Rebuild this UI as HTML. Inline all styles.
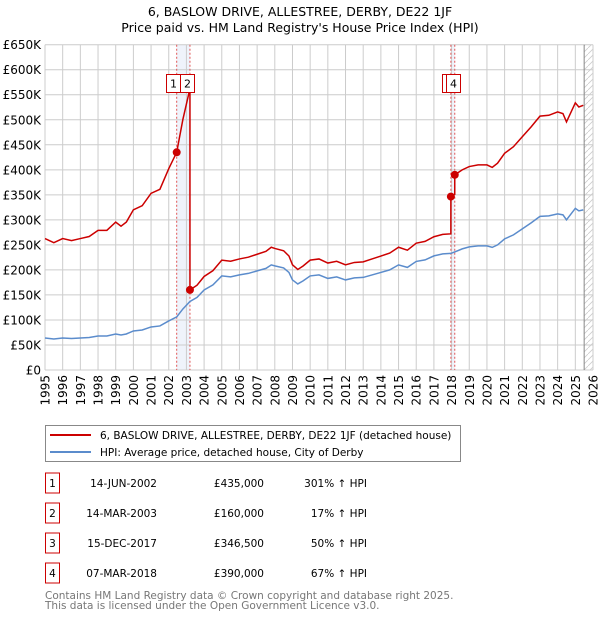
<!DOCTYPE html>
<html><head><meta charset="utf-8">
<style>
body{margin:0;background:#fff;font-family:"DejaVu Sans","Liberation Sans",sans-serif;}
svg text{font-family:"DejaVu Sans","Liberation Sans",sans-serif;}
</style></head>
<body>
<svg id="chart" width="600" height="620" xmlns="http://www.w3.org/2000/svg">
<text x="300" y="16" text-anchor="middle" font-size="12.5">6, BASLOW DRIVE, ALLESTREE, DERBY, DE22 1JF</text>
<text x="300" y="32" text-anchor="middle" font-size="12.5">Price paid vs. HM Land Registry's House Price Index (HPI)</text>
<g id="plot"></g>
<g>
<rect x="45.5" y="425.5" width="415" height="36" fill="#fff" stroke="#888"/>
<line x1="50" y1="435" x2="91" y2="435" stroke="#cc0000" stroke-width="2"/>
<text x="100" y="439" font-size="10.5">6, BASLOW DRIVE, ALLESTREE, DERBY, DE22 1JF (detached house)</text>
<line x1="50" y1="452" x2="91" y2="452" stroke="#5b8ccc" stroke-width="2"/>
<text x="100" y="456" font-size="10.5">HPI: Average price, detached house, City of Derby</text>
</g>
<g id="table"></g>
<text x="45" y="599" font-size="10.5" fill="#777">Contains HM Land Registry data © Crown copyright and database right 2025.</text>
<text x="45" y="609" font-size="10.5" fill="#777">This data is licensed under the Open Government Licence v3.0.</text>
</svg>
<script>
const hpiYears=[1995,1995.5,1996,1996.5,1997,1997.5,1998,1998.5,1999,1999.3,1999.6,2000,2000.5,2001,2001.5,2002,2002.45,2002.8,2003.2,2003.6,2004,2004.5,2005,2005.5,2006,2006.5,2007,2007.5,2007.8,2008,2008.5,2008.8,2009,2009.3,2009.6,2010,2010.5,2011,2011.5,2012,2012.5,2013,2013.5,2014,2014.5,2015,2015.5,2016,2016.5,2017,2017.5,2017.96,2018.18,2018.6,2019,2019.5,2020,2020.3,2020.6,2021,2021.5,2022,2022.5,2023,2023.5,2024,2024.3,2024.5,2025,2025.2,2025.45];
const hpiValues=[64,62,64,63,64,65,68,68,72,70,72,78,80,86,88,98,106,122,137,145,160,170,188,186,190,193,198,203,210,208,204,195,180,172,178,188,190,183,186,180,184,185,190,195,200,210,205,217,220,228,232,233,236,242,246,248,248,245,250,262,270,282,294,307,308,312,310,300,323,318,320];
const saleYears=[2002.45,2003.2,2017.96,2018.18];
const salePrices=[435,160,346.5,390];
const saleLabels=["1","2","3","4"];
const yTicks=[0,50,100,150,200,250,300,350,400,450,500,550,600,650];
const xTicks=[1995,1996,1997,1998,1999,2000,2001,2002,2003,2004,2005,2006,2007,2008,2009,2010,2011,2012,2013,2014,2015,2016,2017,2018,2019,2020,2021,2022,2023,2024,2025,2026];
const saleDates=["14-JUN-2002","14-MAR-2003","15-DEC-2017","07-MAR-2018"];
const salePriceText=["£435,000","£160,000","£346,500","£390,000"];
const salePct=["301% ↑ HPI","17% ↑ HPI","50% ↑ HPI","67% ↑ HPI"];

const NS="http://www.w3.org/2000/svg";
const X0=45,X1=593,Y0=370,Y1=44.7;
const xs=y=>X0+(y-1995)/(2026-1995)*(X1-X0);
const ys=v=>Y0-v/650*(Y0-Y1);
function mk(tag,attrs,parent){const e=document.createElementNS(NS,tag);for(const k in attrs)e.setAttribute(k,attrs[k]);parent.appendChild(e);return e;}
function hpiAt(t){for(let i=0;i<hpiYears.length-1;i++){if(t<=hpiYears[i+1]){const f=(t-hpiYears[i])/(hpiYears[i+1]-hpiYears[i]);return hpiValues[i]+f*(hpiValues[i+1]-hpiValues[i]);}}return hpiValues[hpiValues.length-1];}
const plot=document.getElementById('plot');

for(const [a,b] of [[0,1],[2,3]]){
 const r=mk('rect',{x:xs(saleYears[a]),y:Y1,width:xs(saleYears[b])-xs(saleYears[a]),height:Y0-Y1,fill:'#e8eef9',opacity:0.7},plot);
 
 
}
const defs=mk('defs',{},plot);
const pat=mk('pattern',{id:'hatch',width:6,height:6,patternUnits:'userSpaceOnUse'},defs);
mk('line',{x1:0,y1:6,x2:6,y2:0,stroke:'#ccc','stroke-width':0.8},pat);
const hx=xs(2025.5);
const hr=mk('rect',{x:hx,y:Y1,width:X1-hx,height:Y0-Y1,fill:'url(#hatch)'},plot);


for(const v of yTicks){
 const l=mk('line',{x1:X0,x2:X1,y1:ys(v),y2:ys(v),stroke:'#ccc','stroke-width':1},plot);
 
 
 const t=mk('text',{x:X0-4,y:ys(v)+4.5,'text-anchor':'end','font-size':12},plot);
 t.textContent=v===0?'£0':'£'+v+'K';
 
 
}
for(const y of xTicks){
 const l=mk('line',{x1:xs(y),x2:xs(y),y1:Y1,y2:Y0,stroke:'#ccc','stroke-width':1},plot);
 
 
 const t=mk('text',{x:0,y:0,'text-anchor':'end','font-size':12,transform:`translate(${xs(y)+4.5},${Y0+5}) rotate(-90)`},plot);
 t.textContent=y;
 
 
}
mk('line',{x1:hx,x2:hx,y1:Y1,y2:Y0,stroke:'#888','stroke-width':1},plot);
for(const s of saleYears){
 const l=mk('line',{x1:xs(s),x2:xs(s),y1:Y1,y2:Y0,stroke:'#e05555','stroke-width':1,'stroke-dasharray':'2,2'},plot);
 
 
}
const hp=mk('polyline',{points:hpiYears.map((y,i)=>xs(y)+','+ys(hpiValues[i])).join(' '),fill:'none',stroke:'#5b8ccc','stroke-width':1.5},plot);


let pts=[];
const ratios=saleYears.map((s,i)=>salePrices[i]/hpiAt(s));
const r0=ratios[0];
for(let i=0;i<hpiYears.length;i++){
 const t=hpiYears[i];
 let k=-1;for(let j=0;j<saleYears.length;j++)if(t>=saleYears[j]-1e-9)k=j;
 const r=k<0?r0:ratios[k];
 pts.push([t,hpiValues[i]*r]);
}
let full=pts.slice();
for(let j=1;j<saleYears.length;j++){
 full.push([saleYears[j]-0.0001,hpiAt(saleYears[j])*ratios[j-1]]);
}
full.sort((a,b)=>a[0]-b[0]);
const pl=mk('polyline',{points:full.map(p=>xs(p[0])+','+ys(p[1])).join(' '),fill:'none',stroke:'#cc0000','stroke-width':1.5},plot);


for(let i=0;i<saleYears.length;i++){
 const c=mk('circle',{cx:xs(saleYears[i]),cy:ys(salePrices[i]),r:4,fill:'#cc0000'},plot);
 
 
}
const boxX=[166,180,442,446];
for(let i=0;i<4;i++){
 const g=mk('g',{},plot);
 
 
 mk('rect',{x:boxX[i]+0.5,y:74.5,width:14,height:18,fill:'#fff',stroke:'#cc0000','stroke-width':1},g);
 const t=mk('text',{x:boxX[i]+7.5,y:87.5,'text-anchor':'middle','font-size':11},g);
 t.textContent=saleLabels[i];
}
const tb=document.getElementById('table');
const rowY=[483,513,543,573];
for(let i=0;i<4;i++){
 const g=mk('g',{},tb);
 
 
 mk('rect',{x:45.5,y:rowY[i]-10,width:14,height:20,fill:'#fff',stroke:'#cc0000'},g);
 let t=mk('text',{x:52.5,y:rowY[i]+4,'text-anchor':'middle','font-size':10.5},g);t.textContent=saleLabels[i];
 t=mk('text',{x:157,y:rowY[i]+4,'text-anchor':'end','font-size':10.5},g);t.textContent=saleDates[i];
 t=mk('text',{x:264,y:rowY[i]+4,'text-anchor':'end','font-size':10.5},g);t.textContent=salePriceText[i];
 t=mk('text',{x:367,y:rowY[i]+4,'text-anchor':'end','font-size':10.5},g);t.textContent=salePct[i];
}
</script>
</body></html>
